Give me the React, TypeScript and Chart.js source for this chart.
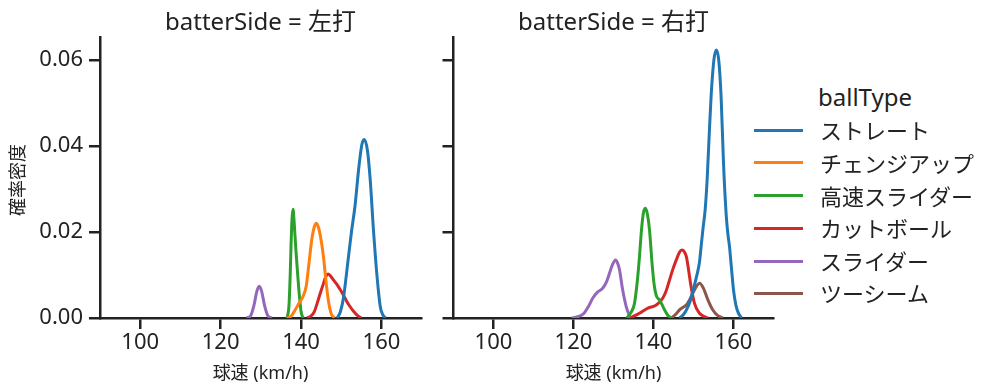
import React, { useEffect, useRef } from "react";
import { Chart, registerables } from "chart.js";

Chart.register(...registerables);

const FONT = '"Noto Sans", "Noto Sans CJK JP", sans-serif';
const TEXT = "#222";

const xTicks = [100, 120, 140, 160];
const yTicks = [0, 0.02, 0.04, 0.06];
const xMin = 90;
const xMax = 170;
const yMax = 0.0653;

const panelTitles = ["batterSide = 左打", "batterSide = 右打"];
const xTitle = "球速 (km/h)";
const yTitle = "確率密度";
const legendTitle = "ballType";
const ballTypes = ["ストレート", "チェンジアップ", "高速スライダー", "カットボール", "スライダー", "ツーシーム"];
const colors = ["#1f77b4", "#ff7f0e", "#2ca02c", "#d62728", "#9467bd", "#8c564b"];

// ---- Left panel (左打) ----
const L_straight_x = [149.0, 149.8, 150.6, 151.2, 151.8, 152.6, 153.4, 154.3, 155.1, 155.7, 156.5, 157.2, 158.0, 158.9, 159.7, 160.3, 161.0];
const L_straight_y = [0, 0.0015, 0.005, 0.0095, 0.0143, 0.0205, 0.0259, 0.0344, 0.0402, 0.0415, 0.039, 0.0321, 0.0205, 0.0096, 0.0026, 0.0008, 0];
const L_change_x = [136.5, 137.5, 138.5, 139.5, 140.5, 141.3, 142.0, 142.7, 143.3, 143.8, 144.4, 145.0, 145.6, 146.2, 146.8, 147.5, 148.3];
const L_change_y = [0, 0.0004, 0.0018, 0.0035, 0.005, 0.0075, 0.013, 0.0185, 0.0212, 0.022, 0.0208, 0.018, 0.014, 0.0085, 0.004, 0.001, 0];
const L_fastsl_x = [136.5, 137.0, 137.3, 137.5, 137.75, 138.0, 138.3, 138.7, 139.2, 139.6, 140.0, 140.5];
const L_fastsl_y = [0, 0.003, 0.01, 0.0166, 0.023, 0.0253, 0.022, 0.016, 0.0096, 0.005, 0.0015, 0];
const L_cut_x = [141.5, 142.5, 143.3, 144.0, 144.8, 145.6, 146.2, 146.7, 147.3, 148.1, 149.0, 149.8, 150.6, 151.4, 152.3, 153.1, 154.0, 155.0];
const L_cut_y = [0, 0.0005, 0.0015, 0.0034, 0.0058, 0.0081, 0.0097, 0.0102, 0.0098, 0.0088, 0.0077, 0.0065, 0.0052, 0.0038, 0.0025, 0.0015, 0.0006, 0];
const L_slider_x = [126.5, 127.5, 128.3, 129.0, 129.6, 130.2, 130.9, 131.7, 132.7];
const L_slider_y = [0, 0.0006, 0.003, 0.0062, 0.0074, 0.0062, 0.003, 0.0006, 0];

// ---- Right panel (右打) ----
const R_straight_x = [146.5, 147.5, 148.3, 149.2, 150.0, 150.8, 151.5, 151.9, 152.4, 152.9, 153.4, 153.9, 154.4, 155.1, 155.7, 156.3, 156.9, 157.5, 158.2, 158.6, 159.0, 159.5, 160.0, 160.6, 161.2, 162.0];
const R_straight_y = [0, 0.0008, 0.002, 0.004, 0.0068, 0.0098, 0.013, 0.0166, 0.021, 0.025, 0.032, 0.042, 0.0515, 0.06, 0.0623, 0.06, 0.0515, 0.036, 0.0236, 0.0195, 0.0166, 0.0115, 0.0065, 0.003, 0.0012, 0];
const R_fastsl_x = [133.3, 134.3, 135.25, 136.0, 136.5, 137.0, 137.5, 138.0, 138.5, 139.0, 139.7, 140.2, 140.7, 141.5, 142.2, 142.75, 143.6, 144.5];
const R_fastsl_y = [0, 0.0012, 0.0034, 0.009, 0.0143, 0.0205, 0.0245, 0.0255, 0.024, 0.0205, 0.012, 0.0075, 0.0052, 0.0042, 0.003, 0.0019, 0.0006, 0];
const R_cut_x = [134.2, 136.5, 138.6, 140.7, 142.3, 143.2, 144.0, 144.8, 145.7, 146.5, 147.1, 147.7, 148.2, 148.8, 149.25, 150.25, 151.5, 153.6];
const R_cut_y = [0, 0.0011, 0.0023, 0.003, 0.0046, 0.0064, 0.0088, 0.0112, 0.0135, 0.0153, 0.0158, 0.0154, 0.0143, 0.011, 0.0081, 0.0034, 0.0011, 0];
const R_slider_x = [119.5, 121.0, 122.5, 123.8, 124.8, 126.0, 127.3, 128.3, 129.0, 129.8, 130.5, 131.0, 131.5, 132.3, 133.2, 134.2];
const R_slider_y = [0, 0.0003, 0.001, 0.0028, 0.0046, 0.006, 0.0069, 0.0085, 0.0104, 0.0125, 0.0135, 0.0128, 0.0112, 0.0065, 0.0026, 0];
const R_twoseam_x = [144.5, 145.5, 146.5, 147.4, 148.2, 149.0, 149.8, 150.7, 151.5, 152.5, 153.6, 154.8, 156.0, 157.3];
const R_twoseam_y = [0, 0.0008, 0.0019, 0.0025, 0.003, 0.0042, 0.0057, 0.0073, 0.0081, 0.0069, 0.0042, 0.0019, 0.0006, 0];

type Series = { name: string; color: string; x: number[]; y: number[] };

const leftSeries: Series[] = [
  { name: ballTypes[0], color: colors[0], x: L_straight_x, y: L_straight_y },
  { name: ballTypes[1], color: colors[1], x: L_change_x, y: L_change_y },
  { name: ballTypes[2], color: colors[2], x: L_fastsl_x, y: L_fastsl_y },
  { name: ballTypes[3], color: colors[3], x: L_cut_x, y: L_cut_y },
  { name: ballTypes[4], color: colors[4], x: L_slider_x, y: L_slider_y },
];
const rightSeries: Series[] = [
  { name: ballTypes[0], color: colors[0], x: R_straight_x, y: R_straight_y },
  { name: ballTypes[2], color: colors[2], x: R_fastsl_x, y: R_fastsl_y },
  { name: ballTypes[3], color: colors[3], x: R_cut_x, y: R_cut_y },
  { name: ballTypes[4], color: colors[4], x: R_slider_x, y: R_slider_y },
  { name: ballTypes[5], color: colors[5], x: R_twoseam_x, y: R_twoseam_y },
];

type PanelProps = {
  series: Series[];
  left: number;
  width: number;
  yWidth: number;
  padRight: number;
  showYLabels: boolean;
};

function Panel({ series, left, width, yWidth, padRight, showYLabels }: PanelProps) {
  const ref = useRef<HTMLCanvasElement | null>(null);
  useEffect(() => {
    if (!ref.current) return;
    const axisCommon = {
      grid: { drawOnChartArea: false, drawTicks: true, tickLength: 11, lineWidth: 2.5, color: TEXT },
      border: { display: true, color: TEXT, width: 2.5 },
    };
    const chart = new Chart(ref.current, {
      type: "line",
      data: {
        datasets: series.map((s) => ({
          label: s.name,
          data: s.x.map((x, i) => ({ x, y: s.y[i] })),
          borderColor: s.color,
          backgroundColor: s.color,
          borderWidth: 3,
          pointRadius: 0,
          fill: false,
          cubicInterpolationMode: "monotone" as const,
        })),
      },
      options: {
        responsive: false,
        maintainAspectRatio: false,
        animation: false,
        layout: { padding: { top: 37, right: padRight, left: 0, bottom: 0 } },
        plugins: { legend: { display: false }, tooltip: { enabled: false }, title: { display: false } },
        scales: {
          x: {
            type: "linear",
            min: xMin,
            max: xMax,
            afterBuildTicks: (s: any) => {
              s.ticks = xTicks.map((v) => ({ value: v }));
            },
            afterFit: (s: any) => {
              s.height = 73;
            },
            ticks: { font: { family: FONT, size: 22 }, color: TEXT, padding: 1, maxRotation: 0 },
            ...axisCommon,
          },
          y: {
            type: "linear",
            min: 0,
            max: yMax,
            afterBuildTicks: (s: any) => {
              s.ticks = yTicks.map((v) => ({ value: v }));
            },
            afterFit: (s: any) => {
              s.width = yWidth;
            },
            ticks: {
              display: showYLabels,
              font: { family: FONT, size: 22 },
              color: TEXT,
              padding: 6,
              callback: (v: any) => Number(v).toFixed(2),
            },
            ...axisCommon,
          },
        },
      },
    } as any);
    return () => chart.destroy();
  }, []);
  return (
    <canvas
      ref={ref}
      width={width}
      height={391}
      style={{ position: "absolute", left, top: 0, width, height: 391 }}
    />
  );
}

const textStyle = (x: number, y: number, size: number): React.CSSProperties => ({
  position: "absolute",
  left: x,
  top: y,
  transform: "translate(-50%, -50%)",
  fontFamily: FONT,
  fontSize: size,
  color: TEXT,
  whiteSpace: "nowrap",
  lineHeight: 1,
});

const legendYs = [130, 162.5, 195.5, 228, 261, 293];

export default function App() {
  return (
    <div style={{ position: "absolute", left: 0, top: 0, width: 999, height: 391, background: "#fff", overflow: "hidden" }}>
      <Panel series={leftSeries} left={0} width={430} yWidth={100} padRight={8.3} showYLabels={true} />
      <Panel series={rightSeries} left={430} width={350} yWidth={23.5} padRight={6.5} showYLabels={false} />
      <div style={textStyle(260.5, 21, 24)}>{panelTitles[0]}</div>
      <div style={textStyle(613.5, 21, 24)}>{panelTitles[1]}</div>
      <div style={textStyle(260.5, 371.5, 18)}>{xTitle}</div>
      <div style={textStyle(613.5, 371.5, 18)}>{xTitle}</div>
      <div style={{ ...textStyle(17, 180, 18), transform: "translate(-50%, -50%) rotate(-90deg)" }}>{yTitle}</div>
      <div style={{ ...textStyle(818, 97, 24), transform: "translate(0, -50%)" }}>{legendTitle}</div>
      {ballTypes.map((b, i) => (
        <React.Fragment key={b}>
          <div
            style={{
              position: "absolute",
              left: 754,
              top: legendYs[i] - 1.5,
              width: 49,
              height: 3,
              background: colors[i],
            }}
          />
          <div style={{ ...textStyle(820, legendYs[i], 22), transform: "translate(0, -50%)" }}>{b}</div>
        </React.Fragment>
      ))}
    </div>
  );
}
